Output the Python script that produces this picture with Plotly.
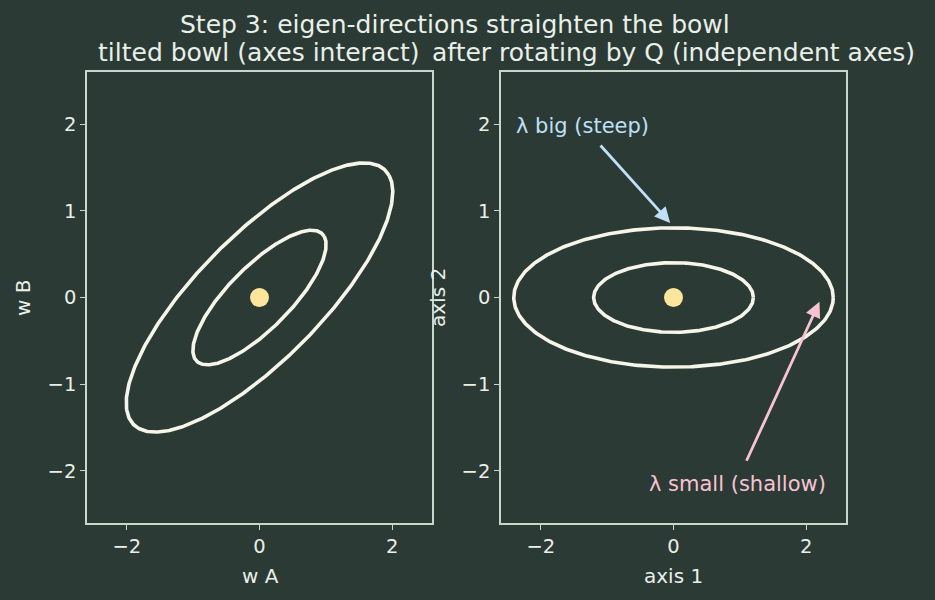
import numpy as np
import plotly.graph_objects as go

# ---- data ----
eigvals = [0.345, 3.1]        # shallow, steep curvature
levels = [0.5, 2.0]           # contour levels of the bowl
tilt_deg = 35.8               # rotation of eigen-directions in the left panel
center = [0.0, 0.0]
tick_vals = [-2, 0, 2]
tick_vals_y = [-2, -1, 0, 1, 2]

BG = "#2b3a34"
LINE = "#f5f5ea"
SPINE = "#c9d6cc"
TXT = "#e9efe9"
DOT = "#fde59b"
BLUE = "#bfe0f6"
PINK = "#f7c3d3"
FONT = "DejaVu Sans"

t = np.linspace(0, 2*np.pi, 400)
th = np.deg2rad(tilt_deg)

fig = go.Figure()
for c in levels:
    a = np.sqrt(c / eigvals[0])
    b = np.sqrt(c / eigvals[1])
    u = a*np.cos(t)
    v = b*np.sin(t)
    x = u*np.cos(th) - v*np.sin(th)
    y = u*np.sin(th) + v*np.cos(th)
    fig.add_trace(go.Scatter(x=x, y=y, mode="lines", line=dict(color=LINE, width=3.6),
                             xaxis="x", yaxis="y", showlegend=False, hoverinfo="skip"))
    fig.add_trace(go.Scatter(x=u, y=v, mode="lines", line=dict(color=LINE, width=3.6),
                             xaxis="x2", yaxis="y2", showlegend=False, hoverinfo="skip"))
for ax_, ay_ in (("x", "y"), ("x2", "y2")):
    fig.add_trace(go.Scatter(x=[center[0]], y=[center[1]], mode="markers",
                             marker=dict(color=DOT, size=19, line=dict(width=0)),
                             xaxis=ax_, yaxis=ay_, showlegend=False))

axis_common = dict(range=[-2.6, 2.6], showgrid=False, zeroline=False, showline=True,
                   linecolor=SPINE, linewidth=1.5, mirror=True, ticks="outside",
                   ticklen=5, tickwidth=1.2, tickcolor=SPINE,
                   tickfont=dict(family=FONT, size=19.5, color=TXT))
fig.update_layout(
    width=935, height=600, margin=dict(l=0, r=0, t=0, b=0),
    paper_bgcolor=BG, plot_bgcolor=BG,
    xaxis=dict(domain=[87/935, 432/935], anchor="y", tickvals=tick_vals, **axis_common),
    yaxis=dict(domain=[77/600, 528/600], anchor="x", tickvals=tick_vals_y, **axis_common),
    xaxis2=dict(domain=[501/935, 846/935], anchor="y2", tickvals=tick_vals, **axis_common),
    yaxis2=dict(domain=[77/600, 528/600], anchor="x2", tickvals=tick_vals_y, **axis_common),
)

def paper_text(x, y, text, size, color=TXT, angle=0):
    fig.add_annotation(x=x/935, y=1-y/600, xref="paper", yref="paper", text=text,
                       showarrow=False, textangle=angle,
                       font=dict(family=FONT, size=size, color=color),
                       xanchor="center", yanchor="middle")

paper_text(455, 25, "Step 3: eigen-directions straighten the bowl", 25)
paper_text(259, 52, "tilted bowl (axes interact)", 25)
paper_text(673, 52, "after rotating by Q (independent axes)", 25)
paper_text(260, 576, "w A", 20)
paper_text(673, 576, "axis 1", 20)
paper_text(23, 298, "w B", 20, angle=-90)
paper_text(438, 298, "axis 2", 20, angle=-90)

# arrows on right panel
fig.add_annotation(x=-0.05, y=0.86, ax=-1.12, ay=1.77, xref="x2", yref="y2",
                   axref="x2", ayref="y2", showarrow=True, arrowhead=2, arrowsize=1.1,
                   arrowwidth=2.8, arrowcolor=BLUE, text="")
fig.add_annotation(x=2.2, y=-0.05, ax=1.09, ay=-1.9, xref="x2", yref="y2",
                   axref="x2", ayref="y2", showarrow=True, arrowhead=2, arrowsize=1.1,
                   arrowwidth=2.8, arrowcolor=PINK, text="")
fig.add_annotation(x=-1.37, y=1.98, xref="x2", yref="y2", text="λ big (steep)",
                   showarrow=False, font=dict(family=FONT, size=21, color=BLUE))
fig.add_annotation(x=0.97, y=-2.15, xref="x2", yref="y2", text="λ small (shallow)",
                   showarrow=False, font=dict(family=FONT, size=21, color=PINK))

fig.write_html("out.html")
